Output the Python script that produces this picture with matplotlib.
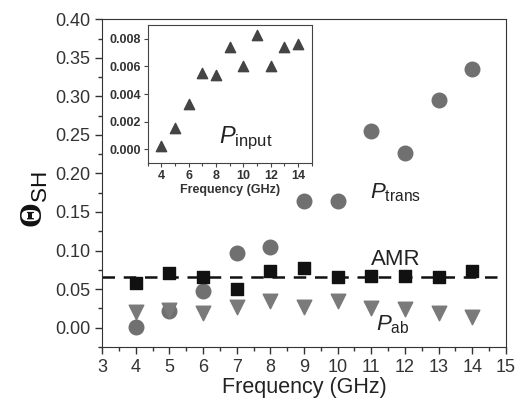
import matplotlib
matplotlib.use("Agg")
import matplotlib.pyplot as plt
from matplotlib.ticker import MultipleLocator

plt.rcParams['font.family'] = ['Liberation Sans', 'DejaVu Sans']
plt.rcParams['mathtext.fontset'] = 'custom'
plt.rcParams['mathtext.rm'] = 'Liberation Sans'
plt.rcParams['mathtext.it'] = 'Liberation Sans:italic'
plt.rcParams['mathtext.bf'] = 'Liberation Serif:bold'

freq = [4, 5, 6, 7, 8, 9, 10, 11, 12, 13, 14]
amr = [0.058, 0.071, 0.065, 0.050, 0.073, 0.077, 0.065, 0.067, 0.067, 0.065, 0.074]
p_trans = [0.001, 0.022, 0.047, 0.097, 0.105, 0.164, 0.164, 0.255, 0.227, 0.295, 0.335]
p_ab = [0.020, 0.023, 0.019, 0.027, 0.034, 0.027, 0.035, 0.025, 0.024, 0.019, 0.014]
amr_line = 0.066
p_input = [0.00024, 0.00155, 0.00327, 0.00553, 0.00538, 0.0074, 0.006, 0.00827, 0.00604, 0.0074, 0.00761]

fig = plt.figure(figsize=(5.21, 4.01), dpi=100)
ax = fig.add_axes([0.196, 0.135, 0.775, 0.817])
for s in ax.spines.values():
    s.set_color('#333333')
ax.axhline(amr_line, color='#111111', lw=1.8, ls=(0, (5, 3.5)), xmin=0, xmax=0.98, zorder=1)
ax.scatter(freq, p_trans, s=110, marker='o', color='#707070', zorder=3)
ax.scatter(freq, p_ab, s=110, marker='v', color='#7a7a7a', zorder=3)
ax.scatter(freq, amr, s=85, marker='s', color='#111111', zorder=4)

ax.set_xlim(3, 15)
ax.set_ylim(-0.025, 0.40)
ax.xaxis.set_major_locator(MultipleLocator(1))
ax.xaxis.set_minor_locator(MultipleLocator(0.5))
ax.yaxis.set_minor_locator(MultipleLocator(0.025))
yt = [0, 0.05, 0.1, 0.15, 0.2, 0.25, 0.3, 0.35, 0.4]
ax.set_yticks(yt)
ax.set_yticklabels([f"{v:.2f}" for v in yt])
ax.tick_params(which='major', direction='out', length=5, width=1, labelsize=13, colors='#333333', labelcolor='#333333')
ax.tick_params(which='minor', direction='out', length=3, width=1, colors='#333333')
ax.set_xlabel('Frequency (GHz)', fontsize=15.5, color='#222222', labelpad=1)
ax.set_ylabel(r'$\mathbf{\Theta}_{\rm SH}$', fontsize=23, color='#111111')
ax.yaxis.set_label_coords(-0.13, 0.45)

ax.text(10.95, 0.168, r'$P_{\rm trans}$', fontsize=16, color='#222222')
ax.text(11.0, 0.081, 'AMR', fontsize=16, color='#222222')
ax.text(11.15, -0.003, r'$P_{\rm ab}$', fontsize=16, color='#222222')

ins = fig.add_axes([0.2835, 0.593, 0.315, 0.345])
for s in ins.spines.values():
    s.set_color('#444444')
ins.scatter(freq, p_input, s=55, marker='^', color='#444444', zorder=3)
ins.set_xlim(3, 15)
ins.set_ylim(-0.001, 0.009)
ins.set_xticks([4, 6, 8, 10, 12, 14])
ins.xaxis.set_minor_locator(MultipleLocator(1))
iyt = [0, 0.002, 0.004, 0.006, 0.008]
ins.set_yticks(iyt)
ins.set_yticklabels([f"{v:.3f}" for v in iyt])
ins.tick_params(which='major', direction='out', length=3, width=0.8, labelsize=9, colors='#444444', labelcolor='#333333', pad=2)
ins.tick_params(which='minor', direction='out', length=2, width=0.8, colors='#444444')
for lab in ins.get_xticklabels() + ins.get_yticklabels():
    lab.set_fontweight('bold')
ins.set_xlabel('Frequency (GHz)', fontsize=9, fontweight='bold', color='#333333', labelpad=1)
ins.text(8.2, 0.00044, r'$P_{\rm input}$', fontsize=17, color='#222222')

fig.savefig('out.png', dpi=100)
